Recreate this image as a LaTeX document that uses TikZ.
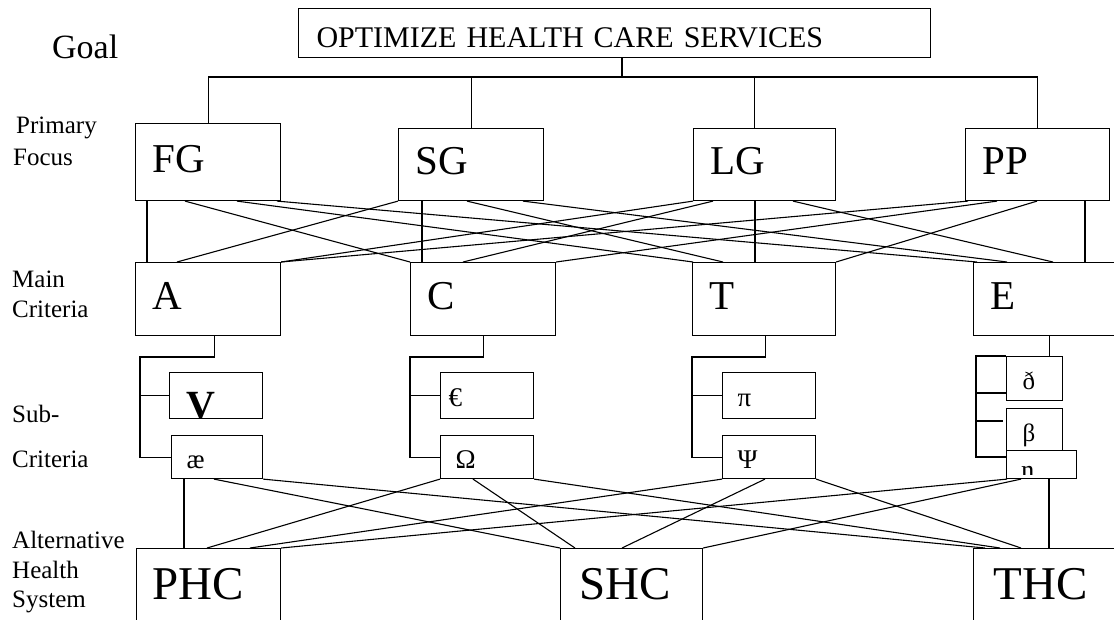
\documentclass[tikz,border=0pt]{standalone}
\usepackage{fontspec}
\setmainfont{Liberation Serif}

\tikzset{
  lnk/.style={line width=1.1pt},
  goalbox/.style={draw, line width=1.1pt, fill=white, anchor=north west, inner xsep=18pt, inner ysep=0pt,
    align=left, text height=29pt, text depth=0pt, font=\fontsize{30}{30}\selectfont},
  bigbox/.style={draw, line width=1.1pt, fill=white, anchor=north west, inner xsep=17pt, inner ysep=0pt,
    align=left, text height=32pt, text depth=12pt, font=\fontsize{41}{41}\selectfont},
  altbox/.style={bigbox, text height=34pt, text depth=14pt, font=\fontsize{47}{47}\selectfont},
  subbox/.style={draw, line width=1.1pt, fill=white, anchor=north west, inner xsep=15pt, inner ysep=0pt,
    align=left, text height=22pt, text depth=0pt, font=\fontsize{27}{27}\selectfont},
  lvl/.style={anchor=base west, inner sep=0pt, font=\fontsize{25}{25}\selectfont}
}

\begin{document}
\begin{tikzpicture}[x=1pt,y=-1pt]
\useasboundingbox (0,0) rectangle (1114,619);
% level labels
\node[lvl, font=\fontsize{34}{34}\selectfont] (goallbl) at (52,58) {Goal};
\node[lvl] (prim) at (16,133) {Primary};
\node[lvl] (focus) at (13,165) {Focus};
\node[lvl] (mainl) at (12,287) {Main};
\node[lvl] (crit1) at (12,317) {Criteria};
\node[lvl] (subl) at (12,422) {Sub-};
\node[lvl] (crit2) at (12,467) {Criteria};
\node[lvl] (altl) at (12,548) {Alternative};
\node[lvl] (health) at (12,578) {Health};
\node[lvl] (system) at (12,607) {System};
%
% boxes
\node[goalbox, text width=596pt, minimum height=49pt] (goal) at (298,8) {OPTIMIZE HEALTH CARE SERVICES};
%
\node[bigbox, text width=111pt, minimum height=77pt] (fg) at (135,123) {FG};
\node[bigbox, text width=111pt, minimum height=72pt] (sg) at (398,128) {SG};
\node[bigbox, text width=108pt, minimum height=72pt] (lg) at (693,128) {LG};
\node[bigbox, text width=110pt, minimum height=72pt] (pp) at (965,128) {PP};
%
\node[bigbox, text width=111pt, minimum height=73pt] (a) at (135,262) {A};
\node[bigbox, text width=111pt, minimum height=73pt] (c) at (410,262) {C};
\node[bigbox, text width=109pt, minimum height=73pt] (t) at (692,262) {T};
\node[bigbox, text width=116pt, minimum height=73pt] (e) at (973,262) {E};
%
\node[subbox, inner xsep=17pt, text width=59pt, minimum height=46pt, text height=46pt,
  font=\fontsize{40}{40}\selectfont\bfseries] (v) at (169,372) {V};
\node[subbox, text width=61pt, minimum height=43pt] (ae) at (171,435) {æ};
\node[subbox, inner xsep=8pt, text width=77pt, minimum height=46pt] (eur) at (440,372) {€};
\node[subbox, text width=63pt, minimum height=43pt] (om) at (440,435) {Ω};
\node[subbox, text width=63pt, minimum height=46pt] (pi) at (722,372) {π};
\node[subbox, text width=63pt, minimum height=43pt] (psi) at (722,435) {Ψ};
\node[subbox, inner xsep=16pt, text width=24pt, minimum height=44pt, font=\fontsize{25}{25}\selectfont] (eth) at (1006,356) {ð};
\node[subbox, inner xsep=16pt, text width=24pt, minimum height=44pt, font=\fontsize{25}{25}\selectfont] (beta) at (1006,408) {β};
\node[subbox, inner xsep=0pt, text width=70pt, minimum height=28pt] (bp) at (1006,450) {};
\begin{scope}
  \clip (bp.north west) rectangle ([yshift=5pt]bp.south east);
  \node[anchor=base, inner sep=0pt, font=\fontsize{28}{28}\selectfont] (eng) at (1028,479) {ŋ};
\end{scope}
%
\node[altbox, inner xsep=16pt, text width=112pt, minimum height=82pt] (phc) at (136,548) {PHC};
\node[altbox, inner xsep=19pt, text width=104pt, minimum height=82pt] (shc) at (560,548) {SHC};
\node[altbox, inner xsep=20pt, text width=110pt, minimum height=82pt] (thc) at (973,548) {THC};
%
% goal to primary focus
\coordinate (bus) at (622,77);
\coordinate (lgtop) at ([xshift=-10pt]lg.north);
\draw[lnk] (goal.south -| bus) -- (bus);
\draw[lnk] (fg.north) |- (bus) -| (pp.north);
\draw[lnk] (sg.north) |- (bus);
\draw[lnk] (lgtop) |- (bus);
%
% primary focus to main criteria
\draw[lnk] ([xshift=12pt]fg.south west) -- ([xshift=12pt]a.north west);
\draw[lnk] ([xshift=50pt]fg.south west) -- (c.north west);
\draw[lnk] ([xshift=102pt]fg.south west) -- ([xshift=1pt]t.north west);
\draw[lnk] ([xshift=142pt]fg.south west) -- ([xshift=4pt]e.north west);
%
\draw[lnk] (sg.south west) -- ([xshift=42pt]a.north west);
\draw[lnk] ([xshift=24pt]sg.south west) -- ([xshift=12pt]c.north west);
\draw[lnk] ([xshift=69pt]sg.south west) -- ([xshift=31pt]t.north west);
\draw[lnk] ([xshift=125pt]sg.south west) -- ([xshift=34pt]e.north west);
%
\draw[lnk] (lg.south west) -- (a.north east);
\draw[lnk] ([xshift=20pt]lg.south west) -- ([xshift=53pt]c.north west);
\draw[lnk] ([xshift=62pt]lg.south west) -- ([xshift=63pt]t.north west);
\draw[lnk] ([xshift=100pt]lg.south west) -- ([xshift=80pt]e.north west);
%
\draw[lnk] ([xshift=3pt]pp.south west) -- (a.north east);
\draw[lnk] ([xshift=32pt]pp.south west) -- (c.north east);
\draw[lnk] ([xshift=72pt]pp.south west) -- (t.north east);
\draw[lnk] ([xshift=120pt]pp.south west) -- ([xshift=112pt]e.north west);
%
% main criteria to sub-criteria
\coordinate (ak) at (140,357);
\draw[lnk] ([xshift=6pt]a.south) |- (ak) |- (ae.west);
\draw[lnk] (ak |- v.west) -- (v.west);
\coordinate (ck) at (410,357);
\draw[lnk] (c.south) |- (ck) |- (om.west);
\draw[lnk] (ck |- eur.west) -- (eur.west);
\coordinate (tk) at (692,357);
\draw[lnk] ([xshift=1pt]t.south) |- (tk) |- (psi.west);
\draw[lnk] (tk |- pi.west) -- (pi.west);
\coordinate (ek) at ([xshift=15pt]eth.north);
\coordinate (ebr) at (976,457);
\draw[lnk] (ek) -- (ek |- e.south);
\draw[lnk] (eth.north west) -| (ebr) -- (ebr -| bp.west);
\draw[lnk] (ebr |- 0,393) -- (eth.west |- 0,393);
\draw[lnk] (ebr |- 0,421) -- (1003,421);
%
% sub-criteria to alternatives
\draw[lnk] ([xshift=13pt]ae.south west) -- ([xshift=48pt]phc.north west);
\draw[lnk] ([xshift=43pt]ae.south west) -- (shc.north west);
\draw[lnk] (ae.south east) -- ([xshift=12pt]thc.north west);
%
\draw[lnk] (om.south west) -- ([xshift=71pt]phc.north west);
\draw[lnk] ([xshift=33pt]om.south west) -- ([xshift=15pt]shc.north west);
\draw[lnk] (om.south east) -- ([xshift=27pt]thc.north west);
%
\draw[lnk] (psi.south west) -- ([xshift=114pt]phc.north west);
\draw[lnk] ([xshift=43pt]psi.south west) -- ([xshift=62pt]shc.north west);
\draw[lnk] (psi.south east) -- ([xshift=48pt]thc.north west);
%
\draw[lnk] ([xshift=1pt]bp.south west) -- (phc.north east);
\draw[lnk] ([xshift=15pt]bp.south west) -- (shc.north east);
\draw[lnk] ([xshift=43pt]bp.south west) -- ([xshift=76pt]thc.north west);
\end{tikzpicture}
\end{document}
